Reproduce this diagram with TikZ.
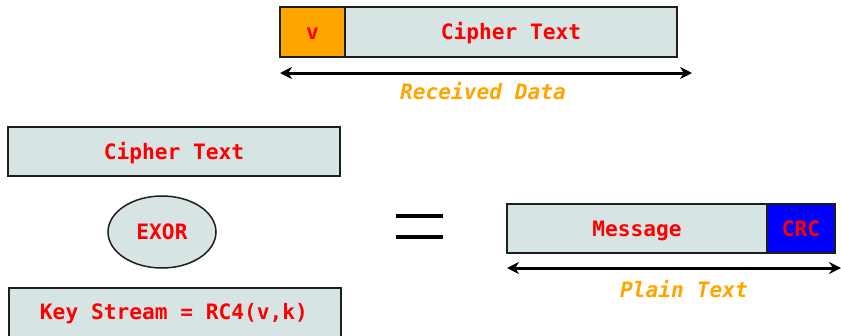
\documentclass[tikz,border=0pt]{standalone}
\usepackage{fontspec}
\setmonofont{DejaVu Sans Mono}
\usetikzlibrary{arrows.meta,shapes.geometric}
\definecolor{boxfill}{RGB}{215,228,228}
\definecolor{lblorange}{RGB}{255,165,0}
\definecolor{boxline}{RGB}{30,30,30}
\begin{document}
\begin{tikzpicture}[x=1pt,y=-1pt,
  redtext/.style={font=\fontsize{21.2}{25}\ttfamily\bfseries, text=red,
    text height=15.5pt, text depth=0pt},
  field/.style={redtext, draw=boxline, line width=1.5pt, fill=boxfill, inner sep=0pt},
  caption/.style={font=\fontsize{21.2}{25}\ttfamily\bfseries\itshape, text=lblorange},
  span/.style={line width=3pt, {Stealth[length=12pt,width=12pt]}-{Stealth[length=12pt,width=12pt]}}]
\useasboundingbox (0,0) rectangle (841,335);
% received frame: IV followed by cipher text
\node[field, fill=lblorange, minimum width=65pt, minimum height=50pt] (iv) at (312.5,32) {v};
\node[field, minimum width=332pt, minimum height=50pt] (ct) at (511,32) {Cipher Text};
\coordinate (rdL) at (280,73);
\coordinate (rdR) at (692,73);
\draw[span] (rdL) -- (rdR);
\node[caption] (rd) at (483,91) {Received Data};
% decryption: cipher text XOR key stream
\node[field, minimum width=332pt, minimum height=49pt] (ct2) at (174,151.5) {Cipher Text};
\node[field, ellipse, minimum width=108pt, minimum height=72pt] (xor) at (162,232) {EXOR};
\node[field, minimum width=332pt, minimum height=60pt] (ks) at (175,318) {};
\node[redtext] (kst) at (174,311.5) {Key Stream = RC4(v,k)};
% equals sign
\coordinate (e1a) at (396,216); \coordinate (e1b) at (443,216);
\coordinate (e2a) at (396,237); \coordinate (e2b) at (443,237);
\draw[line width=3.2pt] (e1a) -- (e1b);
\draw[line width=3.2pt] (e2a) -- (e2b);
% plain text frame: message followed by CRC
\node[field, minimum width=260pt, minimum height=49pt] (msg) at (637,228.5) {Message};
\node[field, fill=blue, minimum width=68pt, minimum height=49pt] (crc) at (801,228.5) {CRC};
\coordinate (ptL) at (507,268);
\coordinate (ptR) at (841,268);
\draw[span] (ptL) -- (ptR);
\node[caption] (pt) at (684,289) {Plain Text};
\end{tikzpicture}
\end{document}
